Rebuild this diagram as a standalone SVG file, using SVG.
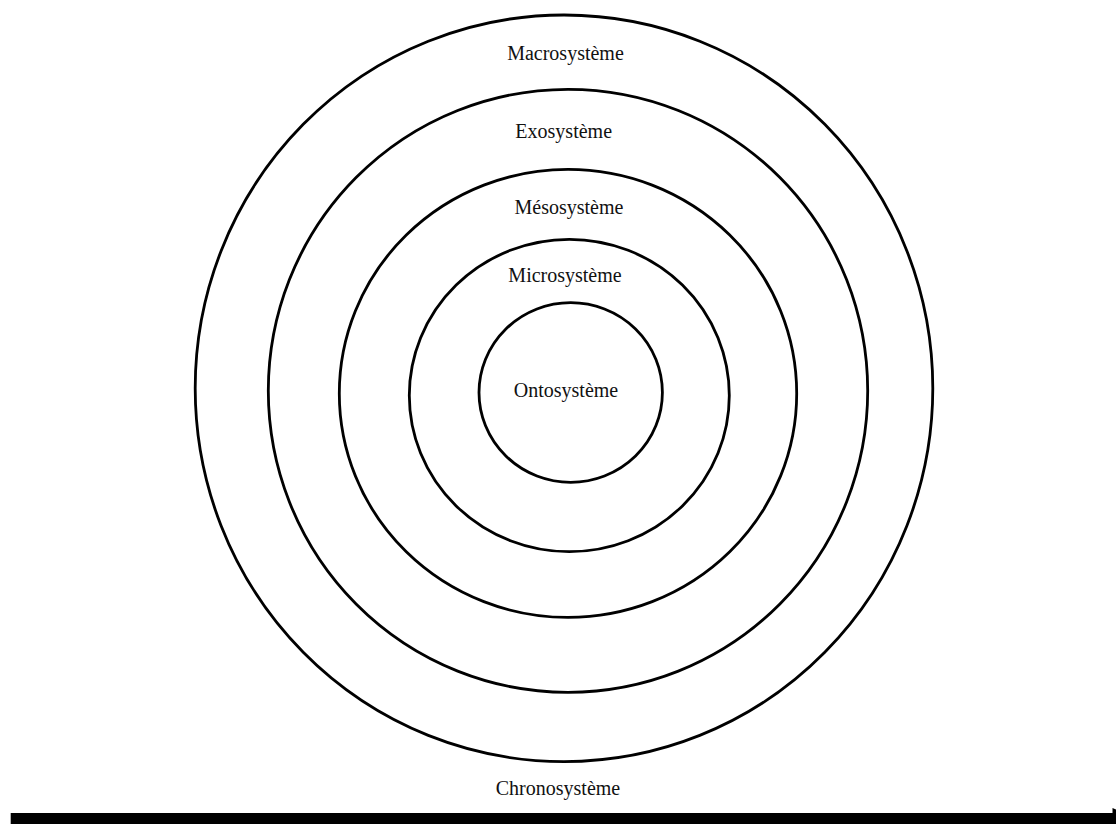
<svg xmlns="http://www.w3.org/2000/svg" width="1116" height="824" viewBox="0 0 1116 824">
<style>
.ring{fill:none;stroke:#000;stroke-width:2.8}
.lbl{font-family:"Liberation Serif","Times New Roman",serif;font-size:20px;fill:#111;text-anchor:middle}
</style>
<rect width="1116" height="824" fill="#fff"/>
<g id="macrosysteme">
<ellipse class="ring" cx="564" cy="388.3" rx="368.8" ry="373.3"/>
<text class="lbl" x="565.5" y="60">Macrosystème</text>
</g>
<g id="exosysteme">
<ellipse class="ring" cx="568" cy="390.8" rx="299.7" ry="301.5"/>
<text class="lbl" x="563.7" y="138.3">Exosystème</text>
</g>
<g id="mesosysteme">
<ellipse class="ring" cx="568" cy="393.4" rx="228.7" ry="224"/>
<text class="lbl" x="569" y="214.3">Mésosystème</text>
</g>
<g id="microsysteme">
<ellipse class="ring" cx="569.3" cy="395.5" rx="160" ry="156.2"/>
<text class="lbl" x="565" y="281.7">Microsystème</text>
</g>
<g id="ontosysteme">
<ellipse class="ring" cx="570.7" cy="392.5" rx="91.7" ry="89.8"/>
<text class="lbl" x="566" y="396.7">Ontosystème</text>
</g>
<g id="chronosysteme">
<text class="lbl" x="558" y="795">Chronosystème</text>
</g>
<g id="connectors">
<rect x="10.7" y="813" width="1105.3" height="11" fill="#000"/>
<polygon points="1112.5,808 1116,809.5 1116,813 1112.5,813" fill="#000"/>
</g>
</svg>
